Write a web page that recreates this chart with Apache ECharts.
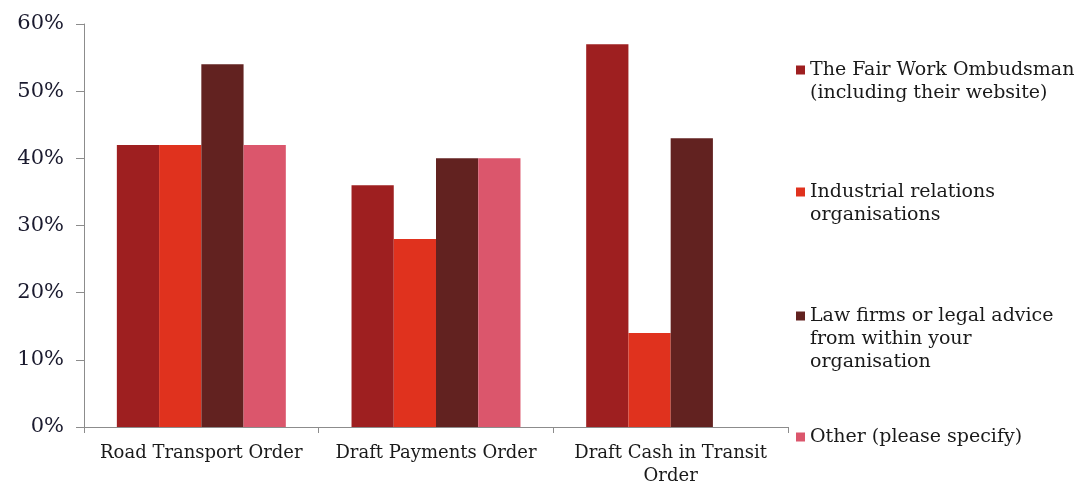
<!DOCTYPE html>
<html lang="en">
<head>
<meta charset="UTF-8">
<title>Sources of advice by order</title>
<style type="text/css">
	html, body { margin: 0; padding: 0; background: #fff; }
	#chart { width: 1080px; height: 485px; }
</style>
</head>
<body>
<div id="chart"></div>
<script type="text/javascript" src="https://cdn.jsdelivr.net/npm/echarts@6/dist/echarts.min.js"></script>
<script type="text/javascript">
	// categories and series (values in %)
	var categories = ['Road Transport Order', 'Draft Payments Order', 'Draft Cash in Transit\nOrder'];
	var seriesNames = [
		'The Fair Work Ombudsman\n(including their website)',
		'Industrial relations\norganisations',
		'Law firms or legal advice\nfrom within your\norganisation',
		'Other (please specify)'
	];
	var fairWork = [42, 36, 57];
	var industrial = [42, 28, 14];
	var lawFirms = [54, 40, 43];
	var other = [42, 40, null];
	var yTicks = [0, 10, 20, 30, 40, 50, 60];

	var colors = ['#9E1F20', '#E0321E', '#622220', '#DB566C'];
	var values = [fairWork, industrial, lawFirms, other];
	var font = 'DejaVu Serif';
	var lineH = 23;

	var myChart = echarts.init(document.getElementById('chart'));

	// one legend per item so they sit evenly spaced like the original;
	// blank lines are prepended so the marker lines up with the first text line
	var firstLineY = [70, 192, 316, 437];
	var legends = [];
	for (var i = 0; i < seriesNames.length; i++) {
		var lines = seriesNames[i].split('\n').length;
		var total = 2 * lines - 1;
		legends.push({
			orient: 'vertical',
			left: 796,
			top: firstLineY[i] - total * lineH / 2,
			padding: 0,
			itemWidth: 9,
			itemHeight: 9,
			icon: 'rect',
			data: [seriesNames[i]],
			formatter: (function (n) {
				return function (name) {
					return new Array(n).join('\n') + name;
				};
			})(lines),
			textStyle: {
				fontFamily: font,
				fontSize: 19,
				color: '#1a1a1a',
				lineHeight: lineH
			}
		});
	}

	var series = [];
	for (var s = 0; s < seriesNames.length; s++) {
		series.push({
			name: seriesNames[s],
			type: 'bar',
			data: values[s],
			barGap: '0%',
			barCategoryGap: '28%',
			itemStyle: { color: colors[s] }
		});
	}

	var option = {
		animation: false,
		color: colors,
		legend: legends,
		grid: { left: 84, right: 292, top: 24, bottom: 58, outerBoundsMode: 'none' },
		xAxis: {
			type: 'category',
			data: categories,
			axisLine: { lineStyle: { color: '#8c8c8c' } },
			axisTick: { show: true, length: 6, lineStyle: { color: '#8c8c8c' } },
			axisLabel: {
				interval: 0,
				margin: 15,
				fontFamily: font,
				fontSize: 18,
				color: '#1a1a1a',
				lineHeight: lineH
			}
		},
		yAxis: {
			type: 'value',
			min: yTicks[0],
			max: yTicks[yTicks.length - 1],
			interval: 10,
			splitLine: { show: false },
			axisLine: { show: true, lineStyle: { color: '#8c8c8c' } },
			axisTick: { show: true, length: 8, lineStyle: { color: '#8c8c8c' } },
			axisLabel: {
				margin: 20,
				fontFamily: font,
				fontSize: 21,
				color: '#1a1a2e',
				formatter: '{value}%'
			}
		},
		series: series
	};

	myChart.setOption(option);
</script>
</body>
</html>
